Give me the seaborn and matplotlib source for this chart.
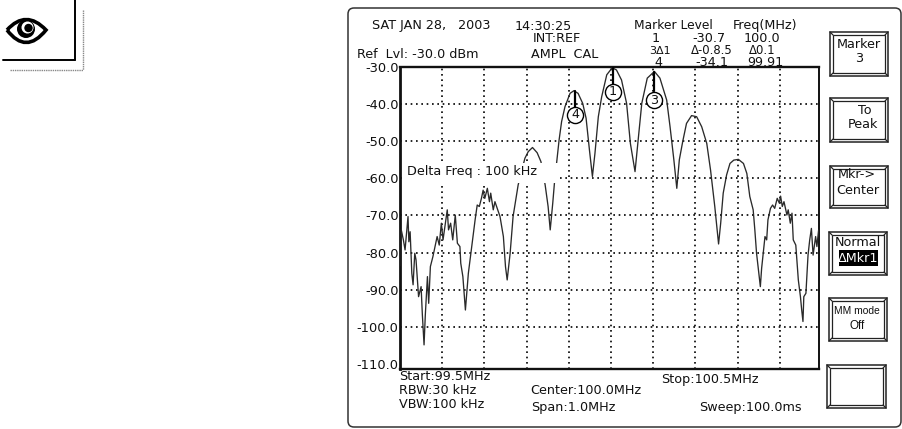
'''
Spectrum analyser screen: recreated trace with markers and soft buttons
'''

import matplotlib
matplotlib.use('Agg')
import matplotlib.pyplot as plt
import pandas as pd
import seaborn as sns
from matplotlib.patches import Circle, FancyBboxPatch, PathPatch, Rectangle
from matplotlib.path import Path

# Trace
freq_mhz = [
    99.503, 99.503, 99.508, 99.512, 99.519, 99.521, 99.524, 99.528, 99.531, 99.535,
    99.538, 99.544, 99.550, 99.553, 99.557, 99.560, 99.565, 99.568, 99.572, 99.578,
    99.588, 99.593, 99.598, 99.602, 99.612, 99.615, 99.620, 99.625, 99.631, 99.636,
    99.642, 99.644, 99.649, 99.655, 99.662, 99.670, 99.678, 99.683, 99.688, 99.693,
    99.697, 99.701, 99.707, 99.712, 99.715, 99.721, 99.725, 99.737, 99.745, 99.750,
    99.754, 99.761, 99.768, 99.780, 99.796, 99.804, 99.814, 99.825, 99.834, 99.844,
    99.851, 99.856, 99.862, 99.866, 99.871, 99.877, 99.883, 99.891, 99.903, 99.912,
    99.922, 99.933, 99.941, 99.949, 99.956, 99.962, 99.970, 99.978, 99.990, 100.003,
    100.013, 100.025, 100.037, 100.046, 100.057, 100.062, 100.073, 100.086, 100.103, 100.116,
    100.132, 100.140, 100.149, 100.156, 100.162, 100.170, 100.179, 100.191, 100.203, 100.215,
    100.227, 100.236, 100.246, 100.255, 100.260, 100.266, 100.274, 100.282, 100.291, 100.302,
    100.314, 100.322, 100.329, 100.337, 100.341, 100.345, 100.354, 100.357, 100.365, 100.369,
    100.372, 100.378, 100.383, 100.388, 100.394, 100.399, 100.402, 100.406, 100.410, 100.417,
    100.420, 100.425, 100.429, 100.432, 100.438, 100.444, 100.449, 100.452, 100.455, 100.457,
    100.462, 100.467, 100.471, 100.475, 100.479, 100.485, 100.488, 100.492,
]
level_dbm = [
    -83.6, -73.9, -76.6, -79.3, -70.3, -77.1, -74.4, -85.6, -88.7, -80.2,
    -82.0, -91.9, -89.2, -96.8, -104.9, -96.8, -86.5, -93.7, -83.8, -81.1,
    -75.7, -78.0, -72.1, -76.6, -68.5, -73.9, -72.1, -76.6, -69.9, -77.5,
    -78.4, -82.9, -86.5, -95.5, -85.6, -78.4, -71.2, -67.2, -67.6, -65.4,
    -63.2, -65.4, -62.7, -66.3, -64.0, -68.5, -66.3, -70.3, -75.7, -83.8,
    -87.4, -80.2, -70.3, -61.8, -54.6, -52.8, -51.7, -53.1, -55.5, -61.8,
    -67.6, -73.9, -66.7, -61.3, -55.9, -49.7, -44.7, -40.7, -37.1, -36.4,
    -37.1, -39.8, -43.8, -52.4, -59.5, -53.3, -43.4, -38.0, -32.1, -30.2,
    -30.8, -33.5, -39.8, -50.6, -58.2, -52.4, -39.8, -33.0, -31.2, -33.0,
    -38.9, -46.1, -55.0, -62.7, -55.0, -50.1, -45.2, -43.1, -43.4, -46.1,
    -50.6, -57.8, -67.6, -77.7, -72.1, -64.0, -59.1, -56.0, -55.1, -54.9,
    -56.0, -58.7, -64.9, -68.5, -74.0, -80.2, -89.2, -84.3, -75.7, -76.6,
    -71.2, -68.1, -67.2, -68.1, -65.4, -66.7, -64.8, -67.6, -66.3, -69.9,
    -68.5, -72.1, -69.4, -76.6, -78.0, -87.4, -91.9, -95.5, -98.6, -91.9,
    -91.0, -80.7, -76.6, -73.5, -80.7, -75.7, -78.4, -74.0,
]

# Markers on the trace
marker_names = ['1', '3', '4']
marker_freq = [100.004, 100.102, 99.915]
marker_level = [-30.2, -31.3, -36.5]
marker_stem_end = [-35.0, -36.5, -41.0]
marker_circle = [-36.7, -38.9, -42.9]

y_ticks = [-30, -40, -50, -60, -70, -80, -90, -100, -110]
x_grid = [99.6, 99.7, 99.8, 99.9, 100.0, 100.1, 100.2, 100.3, 100.4]
y_grid = [-40, -50, -60, -70, -80, -90, -100]

W, H = 903, 429
FS = 9.15

sns.set_theme(style='white')
plt.rcParams['font.family'] = ['DejaVu Sans']

fig = plt.figure(figsize=(W / 100, H / 100), dpi=100)

# Main plot area
ax = fig.add_axes([400 / W, 1 - 369 / H, 419 / W, 302 / H])
trace = pd.DataFrame({'freq': freq_mhz, 'level': level_dbm})
sns.lineplot(data=trace, x='freq', y='level', estimator=None, sort=False,
             color='#2a2a2a', lw=0.95, ax=ax, zorder=3)
ax.set_xlim(99.5, 100.493)
ax.set_ylim(-111.4, -30)
ax.set_xticks(x_grid)
ax.set_xticklabels([])
ax.set_yticks(y_ticks)
ax.set_yticklabels([f'{v:.1f}' for v in y_ticks], fontsize=9.4, color='#111111')
ax.tick_params(axis='both', length=0, pad=1)
ax.set_xlabel('')
ax.set_ylabel('')
for v in x_grid:
    ax.axvline(v, color='black', lw=1.2, ls=(0, (1, 2.2)), zorder=1)
for v in y_grid:
    ax.axhline(v, color='black', lw=1.2, ls=(0, (1, 2.2)), zorder=1)
for name, side in [('left', 2.0), ('bottom', 1.7), ('top', 1.7), ('right', 1.4)]:
    ax.spines[name].set_linewidth(side)
    ax.spines[name].set_color('#111111')

for name, f, top, end, circ in zip(marker_names, marker_freq, marker_level,
                                   marker_stem_end, marker_circle):
    ax.plot([f, f], [top, end], color='black', lw=1.6, zorder=4)
    ax.plot([f], [circ], marker='o', ms=11.6, mfc='white', mec='black', mew=1.0, zorder=5)
    ax.text(f, circ, name, ha='center', va='center', fontsize=FS, color='#111111', zorder=6)

# Overlay in screen pixels for the bezel, buttons and captions
ov = fig.add_axes([0, 0, 1, 1], facecolor='none')
ov.set_xlim(0, W)
ov.set_ylim(H, 0)
ov.axis('off')

ov.add_patch(FancyBboxPatch((348, 8), 553, 419, boxstyle='round,pad=0,rounding_size=6',
                            fc='none', ec='#333333', lw=1.1, zorder=0))

# Delta Freq label sits on a white patch that hides the trace and grid
ov.add_patch(Rectangle((403, 163), 155, 20, fc='white', ec='none', zorder=2))


def label(x, y, s, **kw):
    kw.setdefault('fontsize', FS)
    kw.setdefault('color', '#111111')
    ov.text(x, y, s, va='center', zorder=4, **kw)


label(407, 172, 'Delta Freq : 100 kHz')
label(372, 26, 'SAT JAN 28,   2003')
label(515, 26, '14:30:25')
label(533, 39, 'INT:REF')
label(531, 54, 'AMPL  CAL')
label(357, 54, 'Ref  Lvl: -30.0 dBm')
label(634, 25.5, 'Marker Level', fontsize=8.8)
label(733, 25.5, 'Freq(MHz)')
label(652, 38.5, '1')
label(692, 38.5, '-30.7')
label(744, 38.5, '100.0')
label(649, 51, '3\u03941', fontsize=8)
label(691, 51, '\u0394-0.8.5', fontsize=8.4)
label(749, 51, '\u03940.1', fontsize=8.4)
label(654, 63, '4')
label(695, 63, '-34.1')
label(747, 63, '99.91')
label(399, 377, 'Start:99.5MHz')
label(399, 390, 'RBW:30 kHz')
label(399, 404, 'VBW:100 kHz')
label(530, 391, 'Center:100.0MHz')
label(531, 408, 'Span:1.0MHz')
label(661, 379, 'Stop:100.5MHz')
label(699, 408, 'Sweep:100.0ms')

# Soft buttons, double frame with joined corners
buttons = [(830, 32, 888, 76), (830, 98, 888, 142), (830, 166, 888, 208),
           (829, 232, 887, 275), (829, 298, 887, 341), (827, 365, 886, 408)]
for x0, y0, x1, y1 in buttons:
    ov.add_patch(Rectangle((x0, y0), x1 - x0, y1 - y0, fc='white', ec='#222222', lw=1.1, zorder=1))
    ov.add_patch(Rectangle((x0 + 3, y0 + 3), x1 - x0 - 6, y1 - y0 - 6, fc='white', ec='#222222',
                           lw=0.9, zorder=1))
    for cx, cy, dx, dy in [(x0, y0, 3, 3), (x1, y0, -3, 3), (x0, y1, 3, -3), (x1, y1, -3, -3)]:
        ov.plot([cx, cx + dx], [cy, cy + dy], color='#222222', lw=0.9, zorder=1)

label(859, 44, 'Marker', ha='center')
label(859, 59, '3', ha='center')
label(865, 110, 'To', ha='center')
label(863, 125, 'Peak', ha='center')
label(857, 175, 'Mkr->', ha='center')
label(858, 190, 'Center', ha='center')
label(858, 243, 'Normal', ha='center')
ov.add_patch(Rectangle((839, 250), 39, 16, fc='black', ec='none', zorder=3))
label(858.5, 258, '\u0394Mkr1', ha='center', color='white')
label(857, 311, 'MM mode', ha='center', family='Liberation Sans', fontsize=7.4)
label(857, 326, 'Off', ha='center', family='Liberation Sans', fontsize=8.4)

# Eye icon in the corner, with its frame lines
ov.plot([75, 75], [0, 60], color='black', lw=1.4)
ov.plot([3, 75], [60, 60], color='black', lw=1.4)
ov.plot([83, 83], [10, 70], color='#888888', lw=1.0, ls=(0, (1, 0.6)))
ov.plot([10, 83], [70, 70], color='#888888', lw=1.0, ls=(0, (1, 0.6)))
codes = [Path.MOVETO, Path.CURVE3, Path.CURVE3, Path.CURVE3, Path.CURVE3]
ov.add_patch(PathPatch(Path([(7, 30), (26, 9), (46, 30), (26, 55), (7, 30)], codes),
                       fc='white', ec='black', lw=2.6, zorder=2))
ov.add_patch(Circle((26, 29), 9, fc='black', ec='none', zorder=3))
ov.add_patch(Circle((27.5, 27.5), 6, fc='white', ec='none', zorder=3))
ov.add_patch(Circle((28.5, 28), 4.2, fc='black', ec='none', zorder=3))

fig.savefig('out.png', dpi=100)
